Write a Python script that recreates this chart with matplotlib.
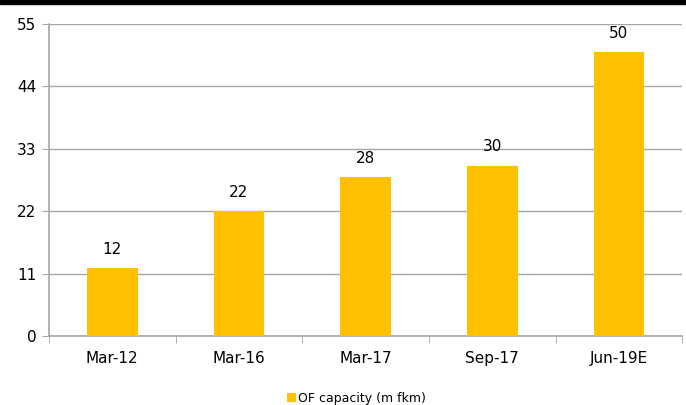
import matplotlib
matplotlib.use('Agg')
import matplotlib.pyplot as plt
import numpy as np

categories = ['Mar-12', 'Mar-16', 'Mar-17', 'Sep-17', 'Jun-19E']
values = [12, 22, 28, 30, 50]
yticks = [0, 11, 22, 33, 44, 55]
series_name = 'OF capacity (m fkm)'

bar_color = '#FFC000'
grid_color = '#A6A6A6'

plt.rcParams['font.family'] = 'DejaVu Sans'

fig = plt.figure(figsize=(6.86, 4.05), dpi=100)
ax = fig.add_axes([0.0714, 0.170, 0.923, 0.771])

x = np.arange(len(categories))
bars = ax.bar(x, values, width=0.4, color=bar_color, label=series_name, zorder=3)

# etiquetas de valor sobre las barras
for b, v in zip(bars, values):
    ax.text(b.get_x() + b.get_width() / 2, v + 2.0, str(v),
            ha='center', va='bottom', fontsize=11, color='#000000')

ax.set_xlim(-0.5, len(categories) - 0.5)
ax.set_ylim(0, 55)
ax.set_yticks(yticks)
ax.set_xticks(x)
ax.set_xticklabels(categories, fontsize=11)
ax.tick_params(axis='y', labelsize=11, length=5, color=grid_color, pad=4)
ax.tick_params(axis='x', length=0, pad=11)
# ticks entre categorias
ax.set_xticks(np.arange(-0.5, len(categories)), minor=True)
ax.tick_params(axis='x', which='minor', length=5, color=grid_color)

ax.grid(axis='y', color=grid_color, linewidth=1.0, zorder=0)
for side in ['top', 'right']:
    ax.spines[side].set_visible(False)
ax.spines['left'].set_color(grid_color)
ax.spines['left'].set_linewidth(1.2)
ax.spines['bottom'].set_color(grid_color)
ax.spines['bottom'].set_linewidth(1.2)

fig.legend(handles=[bars], labels=[series_name], loc='center',
           bbox_to_anchor=(0.52, 0.017), frameon=False, fontsize=9,
           handlelength=0.7, handleheight=0.7, handletextpad=0.2)

# franja negra superior
fig.patches.append(plt.Rectangle((0, 0.991), 1, 0.009, transform=fig.transFigure,
                                 color='black', zorder=10))

fig.savefig('out.png', dpi=100)
